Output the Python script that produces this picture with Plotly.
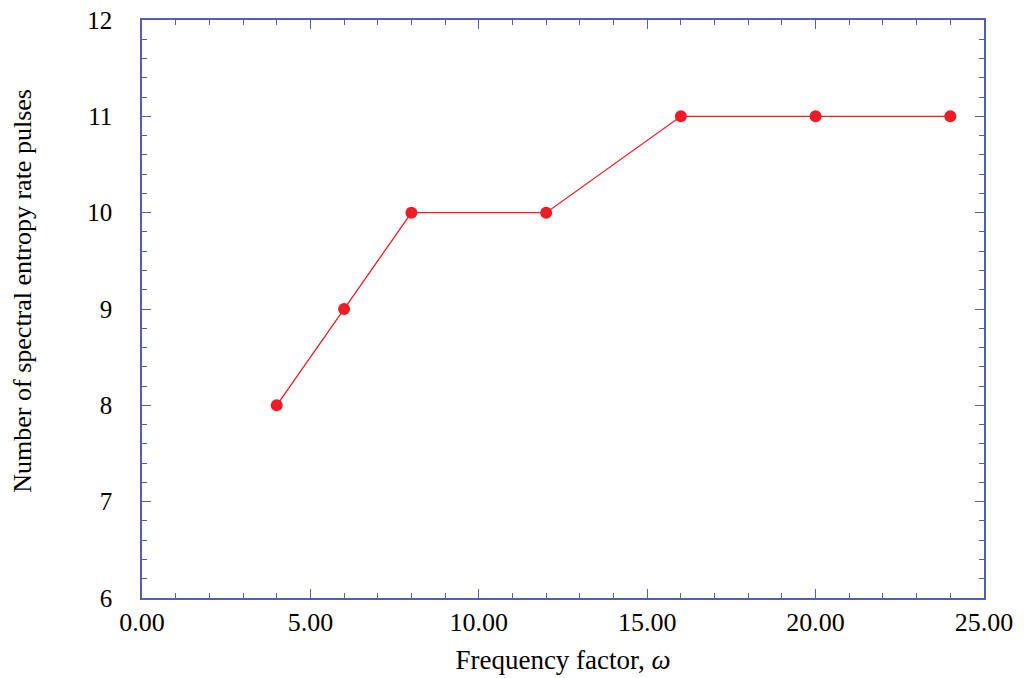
import plotly.graph_objects as go

# data
freq_factor = [4, 6, 8, 12, 16, 20, 24]
pulses = [8, 9, 10, 10, 11, 11, 11]

x_ticks = [0, 5, 10, 15, 20, 25]
x_tick_text = ["0.00", "5.00", "10.00", "15.00", "20.00", "25.00"]
y_ticks = [6, 7, 8, 9, 10, 11, 12]

axis_color = "#4f5fb5"
line_color = "#ee1c25"
font_family = "Liberation Serif, Times New Roman, serif"

fig = go.Figure()

fig.add_trace(go.Scatter(
    x=freq_factor, y=pulses,
    mode="lines+markers",
    line=dict(color=line_color, width=1.3),
    marker=dict(color=line_color, size=12, symbol="circle"),
    showlegend=False,
))

fig.update_xaxes(
    range=[0, 25], automargin=False,
    tickvals=x_ticks, ticktext=x_tick_text,
    ticks="inside", ticklen=9, tickwidth=1.3, tickcolor=axis_color,
    minor=dict(dtick=1, ticks="inside", ticklen=5, tickwidth=1.3, tickcolor=axis_color),
    showline=True, linecolor=axis_color, linewidth=1.5, mirror="allticks",
    showgrid=False, zeroline=False,
    tickfont=dict(family=font_family, size=26, color="black"),
    ticklabelstandoff=0, ticklabeloverflow="allow",
    title=dict(text="Frequency factor, <i>ω</i>", font=dict(family=font_family, size=27, color="black"), standoff=14),
)

fig.update_yaxes(
    range=[6, 12], automargin=False,
    tickvals=y_ticks,
    ticks="inside", ticklen=9, tickwidth=1.3, tickcolor=axis_color,
    minor=dict(dtick=0.2, ticks="inside", ticklen=5, tickwidth=1.3, tickcolor=axis_color),
    showline=True, linecolor=axis_color, linewidth=1.5, mirror="allticks",
    showgrid=False, zeroline=False,
    tickfont=dict(family=font_family, size=25, color="black"),
    ticklabelstandoff=23, ticklabeloverflow="allow",
)

# y title placed as an annotation (it sits a bit above the plot centre)
fig.add_annotation(
    text="Number of spectral entropy rate pulses",
    xref="paper", yref="paper", x=-0.143, y=0.531,
    xanchor="center", yanchor="middle", textangle=-90, showarrow=False,
    font=dict(family=font_family, size=26, color="black"),
)

fig.update_layout(
    width=1024, height=678,
    margin=dict(l=142, r=40, t=20, b=80),
    plot_bgcolor="white", paper_bgcolor="white",
)

# drop the default 8px page margin so the figure fills the window
fig.write_html(
    "out.html",
    config={"displayModeBar": False},
    post_script="document.body.style.margin = '0';",
)
